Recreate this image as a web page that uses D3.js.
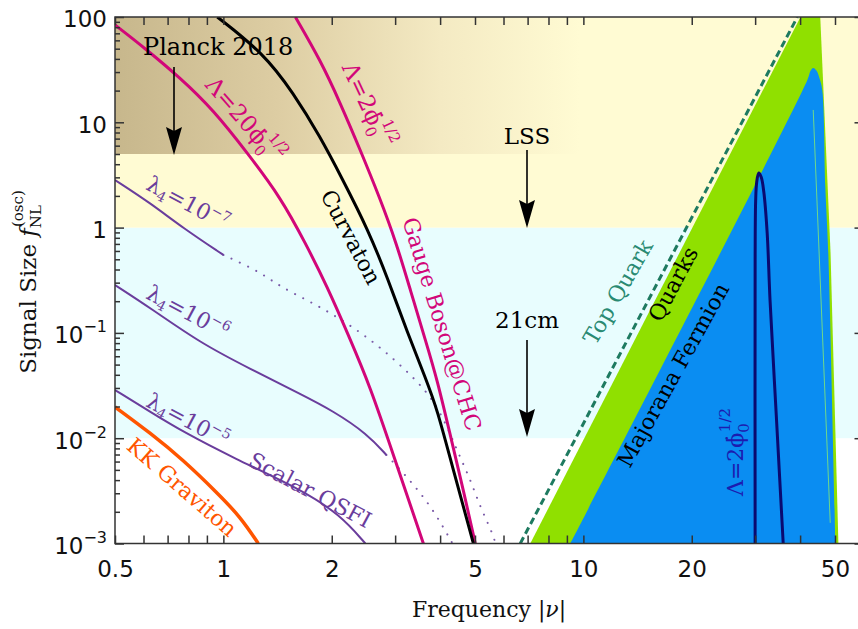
<!DOCTYPE html>
<html><head><meta charset="utf-8">
<script src="https://cdn.jsdelivr.net/npm/d3@7"></script>
<style>body{margin:0;background:#fff} svg{display:block}</style>
</head><body>
<svg id="c" width="858" height="629"></svg>
<script>
// ---------- data ----------
const xTicks = [0.5, 1, 2, 5, 10, 20, 50];
const xTickLabels = ["0.5", "1", "2", "5", "10", "20", "50"];
const xMinorTicks = [0.6, 0.7, 0.8, 0.9, 3, 4, 6, 7, 8, 9, 30, 40];
const yTicks = [0.001, 0.01, 0.1, 1, 10, 100];
const yTickBase = ["10", "10", "10", "1", "10", "100"];
const yTickExp = ["−3", "−2", "−1", "", "", ""];
const yMinorTicks = [2,3,4,5,6,7,8,9].flatMap(m => [0.001, 0.01, 0.1, 1, 10].map(d => m * d));

// bands [ymin, ymax]
const bandPlanck = [5, 100];
const bandLSS = [1, 100];
const band21cm = [0.01, 1];

const kkGraviton = [[0.5,0.0198],[0.627,0.0112],[0.774,0.0062],[0.962,0.00302],[1.115,0.00179],[1.25,0.001]];
const qsfi5 = [[0.5,0.0287],[0.627,0.01774],[0.774,0.01145],[1.066,0.00649],[1.636,0.00329],[2.113,0.00187],[2.48,0.001]];
const qsfi6 = [[0.5,0.285],[0.627,0.1724],[0.863,0.0802],[1.189,0.0454],[1.636,0.0263],[2.02,0.01813],[2.512,0.01096],[2.837,0.00693]];
const qsfi6Dots = [[2.837,0.00693],[3.26,0.00419],[3.81,0.00217],[4.33,0.001]];
const qsfi7 = [[0.5,2.83],[0.627,1.71],[0.774,0.986],[1.0,0.55]];
const qsfi7Dots = [[1.0,0.55],[1.267,0.379],[1.44,0.273],[1.778,0.192],[2.21,0.124],[2.73,0.0734],[3.37,0.0381],[3.83,0.0231],[4.19,0.0128],[4.49,0.00724],[4.86,0.00401],[5.17,0.00222],[5.59,0.00126],[5.70,0.001]];
const gauge20 = [[0.5,84],[0.5995,51.9],[0.7598,26.35],[0.938,13.09],[1.166,5.11],[1.44,1.953],[1.69,0.714],[1.945,0.273],[2.224,0.0955],[2.561,0.0306],[2.967,0.00693],[3.594,0.001]];
const gauge2 = [[1.585,100],[1.859,39.0],[2.113,15.2],[2.40,5.46],[2.713,1.954],[3.024,0.714],[3.307,0.255],[3.64,0.0857],[3.93,0.0357],[4.30,0.00962],[4.64,0.00322],[5.01,0.001]];
const curvaton = [[0.962,100],[1.291,45.5],[1.565,18.97],[1.859,7.25],[2.127,3.02],[2.527,0.949],[2.872,0.318],[3.224,0.1065],[3.664,0.0357],[3.93,0.01853],[4.30,0.00581],[4.95,0.001]];
const topQuark = [[6.68,0.001],[39.3,100]];
const quarksRegion = [[7.12,0.001],[40.1,100],[45.5,100],[48.6,0.574],[51.1,0.001]];
const majoranaRegion = [[9.2,0.001],[41.9,25.2],[42.8,31],[43.5,32.8],[44.4,31],[45.3,26],[46.1,20],[47.0,2.43],[47.9,0.574],[50.1,0.001]];
const majoranaStreak = [[43.5,13.1],[48.5,0.00157]];
const majoranaLambda2 = [[30.0,0.001],[30.0,0.5],[30.1,1.8],[30.3,2.7],[30.7,3.3],[31.2,3.0],[31.7,2.2],[32.4,0.89],[33.0,0.205],[34.4,0.0149],[35.9,0.001]];

// ---------- layout ----------
const svg = d3.select("#c");
const L = 115, T = 17, B = 543.5;
const x = d3.scaleLog().domain([0.5, 60]).range([L, L + 360 * Math.log10(120)]);
const y = d3.scaleLog().domain([0.001, 100]).range([B, T]);
const R = x.range()[1];

const defs = svg.append("defs");
defs.append("clipPath").attr("id", "clip").append("rect")
  .attr("x", L).attr("y", T).attr("width", R - L).attr("height", B - T);
const grad = defs.append("linearGradient").attr("id", "planck")
  .attr("gradientUnits", "userSpaceOnUse").attr("x1", L).attr("x2", 580).attr("y1", 0).attr("y2", 0);
[[0, "#c7b78c"], [0.35, "#ddcda3"], [0.7, "#f4eac3"], [1, "#fffbd3"]].forEach(s =>
  grad.append("stop").attr("offset", s[0]).attr("stop-color", s[1]));

const g = svg.append("g").attr("clip-path", "url(#clip)");
const band = (b, fill) => g.append("rect").attr("x", L).attr("width", R - L)
  .attr("y", y(b[1])).attr("height", y(b[0]) - y(b[1])).attr("fill", fill);
band(band21cm, "#e8fdfe");
band(bandLSS, "#fffbd3");
band(bandPlanck, "url(#planck)");

const line = d3.line().x(d => x(d[0])).y(d => y(d[1]));
const cr = d3.line().x(d => x(d[0])).y(d => y(d[1])).curve(d3.curveCatmullRom.alpha(0.5));
const smooth = d3.line().x(d => x(d[0])).y(d => y(d[1])).curve(d3.curveBasis);

g.append("path").attr("d", line(quarksRegion) + "Z").attr("fill", "#90e000");
g.append("path").attr("d", cr(majoranaRegion) + "Z").attr("fill", "#0a8df2");
g.append("path").attr("d", line(majoranaStreak)).attr("stroke", "#6fd88a").attr("stroke-width", 1).attr("fill", "none");
g.append("path").attr("d", line(topQuark)).attr("stroke", "#1e7a60").attr("stroke-width", 3)
  .attr("stroke-dasharray", "7,4").attr("fill", "none");
g.append("path").attr("d", cr(majoranaLambda2)).attr("stroke", "#0a0a70").attr("stroke-width", 3).attr("fill", "none");

const curve = (data, color, w, dash) => {
  const p = g.append("path").attr("d", smooth(data)).attr("fill", "none")
    .attr("stroke", color).attr("stroke-width", w);
  if (dash) p.attr("stroke-dasharray", dash).attr("stroke-linecap", "round");
};
const PURPLE = "#6a3d9c", MAG = "#d20679", ORANGE = "#ff5500";
curve(qsfi7Dots, "#7a5aa8", 2, "0.1,9");
curve(qsfi6Dots, "#7a5aa8", 2, "0.1,9");
curve(qsfi7, PURPLE, 2);
curve(qsfi6, PURPLE, 2);
curve(qsfi5, PURPLE, 2);
curve(kkGraviton, ORANGE, 3.5);
curve(gauge20, MAG, 3);
curve(gauge2, MAG, 3);
curve(curvaton, "#000", 3);

// ---------- labels ----------
const SERIF = "DejaVu Serif";
function label(parts, cx, cy, ang, color, size, anchor) {
  const t = svg.append("text").attr("transform", `translate(${cx},${cy}) rotate(${ang})`)
    .attr("text-anchor", anchor || "middle").attr("y", size * 0.35)
    .attr("font-family", SERIF).attr("font-size", size).attr("fill", color);
  parts.forEach(p => {
    const s = t.append("tspan").text(p.t);
    if (p.fs) s.attr("font-size", p.fs);
    if (p.dx) s.attr("dx", p.dx);
    if (p.dy) s.attr("dy", p.dy);
    if (p.it) s.attr("font-style", "italic");
  });
  return t;
}
const phiParts = (pre) => [{t: pre + "ϕ\u0307"}, {t: "0", fs: 15, dy: 6}, {t: "1/2", fs: 15, dx: -9, dy: -19}];
label(phiParts("Λ=20"), 245, 120, 49, MAG, 23);
label(phiParts("Λ=2"), 368, 105, 65, MAG, 23);
label([{t: "Curvaton"}], 351, 237, 62, "#000", 22);
label([{t: "Gauge Boson@CHC"}], 442, 324, 73, MAG, 22);
const lamParts = (e) => [{t: "λ"}, {t: "4", fs: 14, dy: 4}, {t: "=10", dy: -4}, {t: e, fs: 14, dy: -9}];
label(lamParts("−7"), 188, 203, 28, PURPLE, 22);
label(lamParts("−6"), 188, 312, 28, PURPLE, 22);
label(lamParts("−5"), 188, 420, 28, PURPLE, 22);
label([{t: "Scalar QSFI"}], 310, 490, 28, PURPLE, 22);
label([{t: "KK Graviton"}], 182, 487, 41, ORANGE, 22);
label([{t: "Top Quark"}], 618, 292, -60, "#2a8a72", 22);
label([{t: "Quarks"}], 673, 284, -62, "#000", 22);
label([{t: "Majorana Fermion"}], 673, 375, -61, "#000", 22);
label(phiParts("Λ=2"), 735, 452, -90, "#1c1cb0", 22);

svg.append("text").attr("x", 143).attr("y", 55).attr("font-family", SERIF).attr("font-size", 24).text("Planck 2018");
svg.append("text").attr("x", 527).attr("y", 144).attr("text-anchor", "middle").attr("font-family", SERIF).attr("font-size", 23).text("LSS");
svg.append("text").attr("x", 527).attr("y", 328).attr("text-anchor", "middle").attr("font-family", SERIF).attr("font-size", 23).text("21cm");

function arrow(ax, y0, y1) {
  svg.append("line").attr("x1", ax).attr("x2", ax).attr("y1", y0).attr("y2", y1 - 20)
    .attr("stroke", "#000").attr("stroke-width", 1.6);
  svg.append("path").attr("d", `M${ax},${y1} L${ax - 8},${y1 - 28} L${ax},${y1 - 24} L${ax + 8},${y1 - 28} Z`).attr("fill", "#000");
}
arrow(174, 67, 155);
arrow(527, 150, 228);
arrow(527, 340, 437);

// ---------- axes ----------
const AX = "#333";
svg.append("rect").attr("x", L).attr("y", T).attr("width", R - L).attr("height", B - T)
  .attr("fill", "none").attr("stroke", AX).attr("stroke-width", 1.5);

function styleAxis(sel) {
  sel.select(".domain").remove();
  sel.selectAll(".tick line").attr("stroke", AX).attr("stroke-width", 1.5);
  sel.selectAll("text").attr("fill", "#111").attr("font-family", "DejaVu Sans").attr("font-size", 23);
}
svg.append("g").attr("transform", `translate(0,${B})`)
  .call(d3.axisBottom(x).tickValues(xTicks).tickSize(-8).tickPadding(17).tickFormat((d, i) => xTickLabels[i]))
  .call(styleAxis);
svg.append("g").attr("transform", `translate(0,${B})`)
  .call(d3.axisBottom(x).tickValues(xMinorTicks).tickSize(-8).tickFormat("")).call(styleAxis);
svg.append("g").attr("transform", `translate(0,${T})`)
  .call(d3.axisTop(x).tickValues(xTicks.concat(xMinorTicks)).tickSize(-8).tickFormat("")).call(styleAxis);

const yAx = svg.append("g").attr("transform", `translate(${L},0)`)
  .call(d3.axisLeft(y).tickValues(yTicks).tickSize(-9).tickPadding(8).tickFormat(""))
  .call(styleAxis);
yAx.selectAll(".tick").each(function (d, i) {
  const t = d3.select(this).append("text").attr("x", -8).attr("dy", "0.43em")
    .attr("text-anchor", "end").attr("fill", "#111").attr("font-family", "DejaVu Sans").attr("font-size", 23);
  t.append("tspan").text(yTickBase[i]);
  if (yTickExp[i]) t.append("tspan").attr("font-size", 16).attr("dy", -11).text(yTickExp[i]);
});
svg.append("g").attr("transform", `translate(${L},0)`)
  .call(d3.axisLeft(y).tickValues(yMinorTicks).tickSize(-5).tickFormat("")).call(styleAxis);
svg.append("g").attr("transform", `translate(${R},0)`)
  .call(d3.axisRight(y).tickValues(yTicks).tickSize(-9).tickFormat("")).call(styleAxis);
svg.append("g").attr("transform", `translate(${R},0)`)
  .call(d3.axisRight(y).tickValues(yMinorTicks).tickSize(-5).tickFormat("")).call(styleAxis);

// axis titles
const xt = svg.append("text").attr("x", 489).attr("y", 617).attr("text-anchor", "middle")
  .attr("font-family", SERIF).attr("font-size", 22).attr("fill", "#111");
xt.append("tspan").text("Frequency |");
xt.append("tspan").attr("font-style", "italic").text("ν");
xt.append("tspan").text("|");

const yt = svg.append("text").attr("transform", "translate(36,282) rotate(-90)").attr("text-anchor", "middle")
  .attr("font-family", SERIF).attr("font-size", 23).attr("fill", "#111");
yt.append("tspan").text("Signal Size ");
yt.append("tspan").attr("font-style", "italic").text("f");
yt.append("tspan").attr("font-size", 15).attr("dy", 5).text("NL");
yt.append("tspan").attr("font-size", 15).attr("dx", -22).attr("dy", -18).text("(osc)");
</script>
</body></html>
